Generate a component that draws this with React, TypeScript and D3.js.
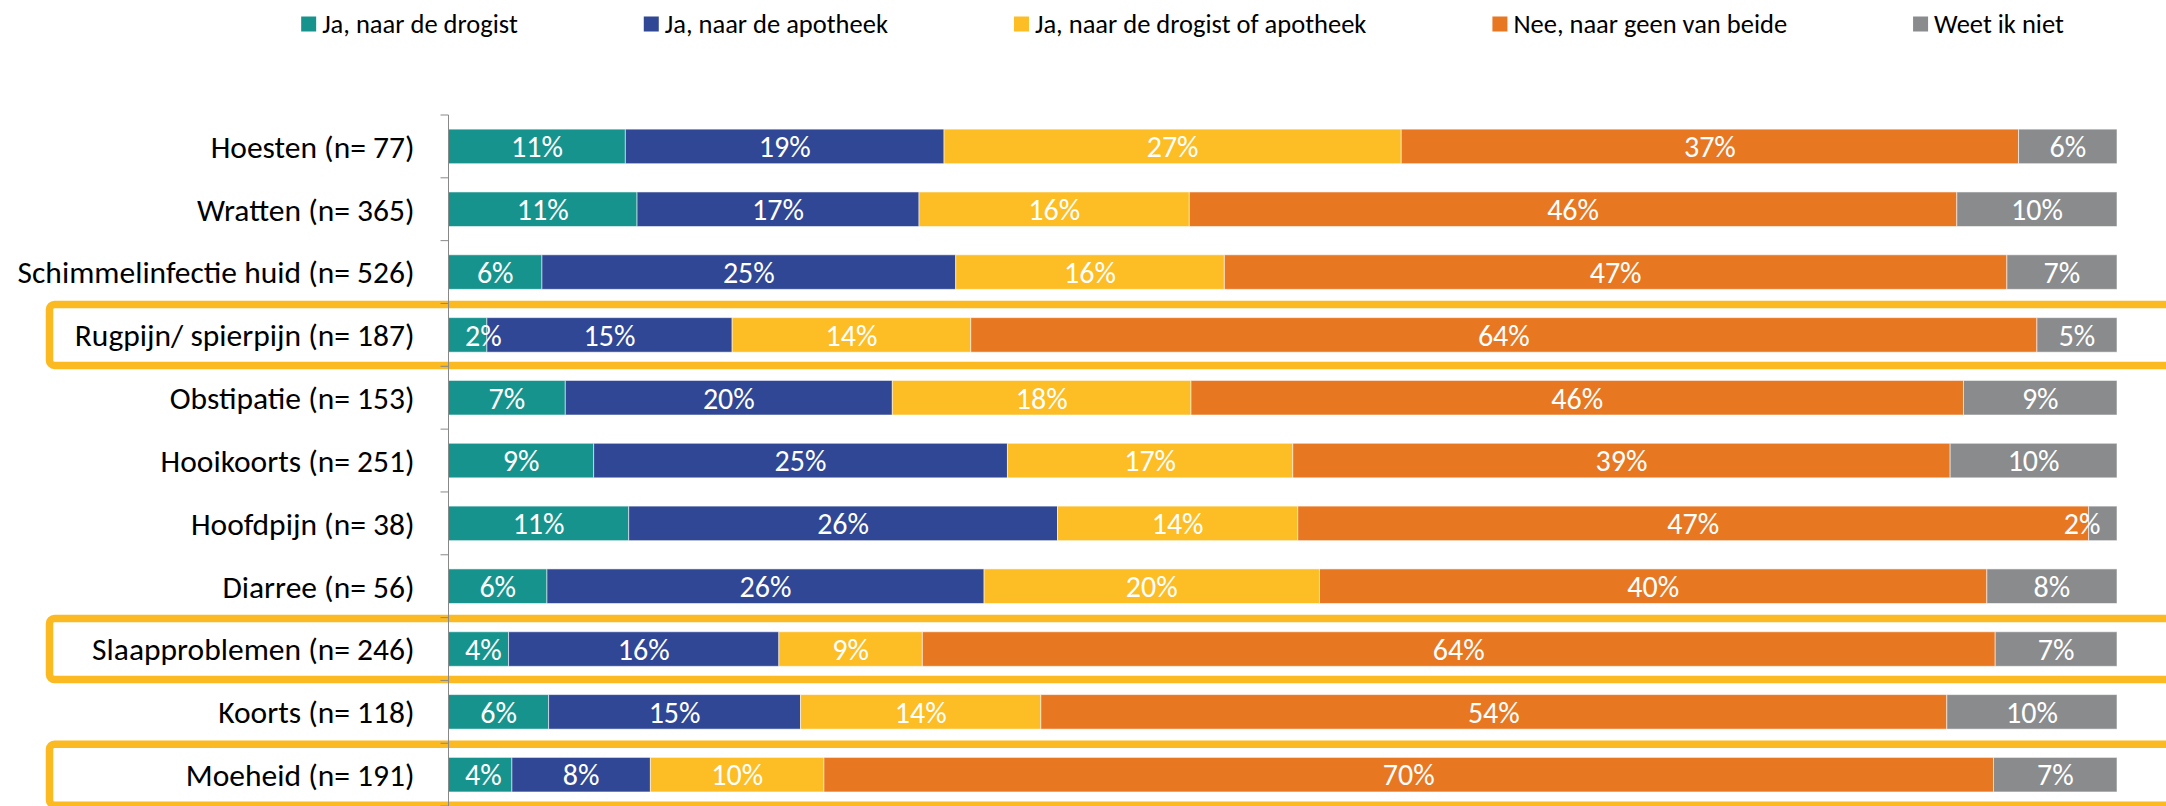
import React, { useEffect, useRef } from "react";
import * as d3 from "d3";

const categories = [
  "Hoesten (n= 77)",
  "Wratten (n= 365)",
  "Schimmelinfectie huid (n= 526)",
  "Rugpijn/ spierpijn (n= 187)",
  "Obstipatie (n= 153)",
  "Hooikoorts (n= 251)",
  "Hoofdpijn (n= 38)",
  "Diarree (n= 56)",
  "Slaapproblemen (n= 246)",
  "Koorts (n= 118)",
  "Moeheid (n= 191)",
];

const drogist = [10.6, 11.3, 5.6, 2.3, 7.0, 8.7, 10.8, 5.9, 3.6, 6.0, 3.8];
const apotheek = [19.1, 16.9, 24.8, 14.7, 19.6, 24.8, 25.7, 26.2, 16.2, 15.1, 8.3];
const drogistOfApotheek = [27.4, 16.2, 16.1, 14.3, 17.9, 17.1, 14.4, 20.1, 8.6, 14.4, 10.4];
const geenVanBeide = [37.0, 46.0, 46.9, 63.9, 46.3, 39.4, 47.4, 40.0, 64.3, 54.3, 70.1];
const weetNiet = [5.9, 9.6, 6.6, 4.8, 9.2, 10.0, 1.7, 7.8, 7.3, 10.2, 7.4];

const seriesNames = [
  "Ja, naar de drogist",
  "Ja, naar de apotheek",
  "Ja, naar de drogist of apotheek",
  "Nee, naar geen van beide",
  "Weet ik niet",
];
const seriesColors = ["#17938E", "#2F4795", "#FDBD24", "#E87722", "#898B8D"];

const highlighted = [
  "Rugpijn/ spierpijn (n= 187)",
  "Slaapproblemen (n= 246)",
  "Moeheid (n= 191)",
];

const W = 2166;
const H = 806;
const FONT = "Carlito, Calibri, Lato, sans-serif";

export default function App() {
  const ref = useRef<SVGSVGElement>(null);

  useEffect(() => {
    document.body.style.margin = "0";
    const svg = d3.select(ref.current);
    svg.selectAll("*").remove();

    const left = 448.5;
    const right = 2117;
    const top = 115;
    const bottom = 806.1;

    const x = d3.scaleLinear().domain([0, 100]).range([left, right]);
    const y = d3
      .scaleBand<string>()
      .domain(categories)
      .range([top, bottom])
      .paddingInner(0.45)
      .paddingOuter(0.225);

    const seriesArrays = [drogist, apotheek, drogistOfApotheek, geenVanBeide, weetNiet];
    const rows = categories.map((c, i) => {
      const r: any = { cat: c };
      seriesNames.forEach((s, k) => (r[s] = seriesArrays[k][i]));
      return r;
    });
    const stacked = d3.stack<any>().keys(seriesNames)(rows);

    // highlight boxes
    const step = y.step();
    svg
      .append("g")
      .selectAll("rect")
      .data(highlighted)
      .join("rect")
      .attr("x", 49.5)
      .attr("y", (d) => (y(d) as number) + y.bandwidth() / 2 - 30.5)
      .attr("width", 2250)
      .attr("height", 61)
      .attr("rx", 5)
      .attr("fill", "none")
      .attr("stroke", "#FBBA22")
      .attr("stroke-width", 7.5);

    // bars
    const gBars = svg.append("g");
    stacked.forEach((layer, k) => {
      gBars
        .append("g")
        .attr("fill", seriesColors[k])
        .selectAll("rect")
        .data(layer)
        .join("rect")
        .attr("x", (d) => x(d[0]))
        .attr("y", (d) => y(d.data.cat) as number)
        .attr("width", (d) => x(d[1]) - x(d[0]))
        .attr("height", y.bandwidth())
        .attr("stroke", "#ffffff")
        .attr("stroke-opacity", 0.55)
        .attr("stroke-width", 1);
    });

    // data labels
    const gLab = svg.append("g");
    const margin = 16.5;
    stacked.forEach((layer) => {
      layer.forEach((d) => {
        const t = gLab
          .append("text")
          .attr("font-family", FONT)
          .attr("font-size", 30)
          .attr("fill", "#ffffff")
          .attr("text-anchor", "middle")
          .attr("y", (y(d.data.cat) as number) + y.bandwidth() / 2)
          .attr("dy", "0.36em")
          .text(`${Math.round(d[1] - d[0])}%`);
        const w = (t.node() as SVGTextElement).getComputedTextLength();
        let cx = (x(d[0]) + x(d[1])) / 2;
        cx = Math.max(cx, left + margin + w / 2);
        cx = Math.min(cx, right - margin - w / 2);
        t.attr("x", cx);
      });
    });

    // axis
    const gAxis = svg.append("g").attr("stroke", "#888888").attr("stroke-width", 1);
    gAxis
      .append("line")
      .attr("x1", left)
      .attr("x2", left)
      .attr("y1", top)
      .attr("y2", bottom);
    const boundaries = d3.range(categories.length + 1).map((i) => top + i * step);
    gAxis
      .selectAll("line.tick")
      .data(boundaries)
      .join("line")
      .attr("class", "tick")
      .attr("x1", left - 8)
      .attr("x2", left)
      .attr("y1", (d) => d)
      .attr("y2", (d) => d);

    // category labels
    svg
      .append("g")
      .selectAll("text")
      .data(categories)
      .join("text")
      .attr("font-family", FONT)
      .attr("font-size", 31.5)
      .attr("fill", "#000000")
      .attr("text-anchor", "end")
      .attr("x", left - 34)
      .attr("y", (d) => (y(d) as number) + y.bandwidth() / 2)
      .attr("dy", "0.36em")
      .text((d) => d);

    // legend
    const gLeg = svg.append("g");
    const sq = 15;
    const gapText = 6;
    const gapItem = 126;
    const items = seriesNames.map((name, k) => {
      const g = gLeg.append("g");
      g.append("rect")
        .attr("width", sq)
        .attr("height", sq)
        .attr("y", 16.5)
        .attr("fill", seriesColors[k]);
      const t = g
        .append("text")
        .attr("font-family", FONT)
        .attr("font-size", 26.5)
        .attr("fill", "#000000")
        .attr("x", sq + gapText)
        .attr("y", 32.5)
        .text(name);
      const w = (t.node() as SVGTextElement).getComputedTextLength();
      return { g, w: sq + gapText + w };
    });
    const total = d3.sum(items, (d) => d.w) + gapItem * (items.length - 1);
    let cur = 1182.5 - total / 2;
    items.forEach((it) => {
      it.g.attr("transform", `translate(${cur},0)`);
      cur += it.w + gapItem;
    });
  }, []);

  return (
    <svg
      ref={ref}
      width={W}
      height={H}
      style={{ position: "absolute", left: 0, top: 0, background: "#ffffff", display: "block" }}
    />
  );
}
